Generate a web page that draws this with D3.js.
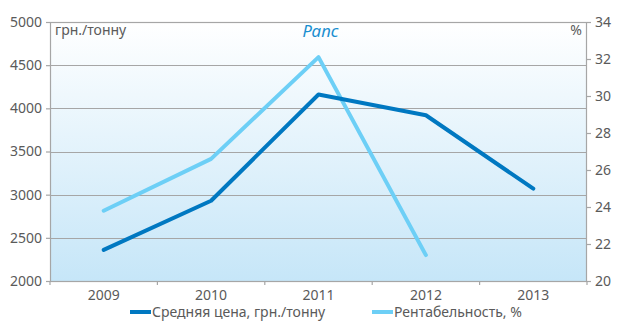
<!DOCTYPE html>
<html>
<head>
<meta charset="utf-8">
<script src="https://cdn.jsdelivr.net/npm/d3@7"></script>
<style>
  html, body { margin: 0; padding: 0; background: #fff; }
  svg { display: block; font-family: "Noto Sans", "Open Sans", sans-serif; }
</style>
</head>
<body>
<svg id="chart" width="617" height="323"></svg>
<script>
// Rapeseed: average price and profitability by year
const years = ["2009", "2010", "2011", "2012", "2013"];
const priceValues = [2360, 2930, 4160, 3920, 3070];
const profitValues = [23.8, 26.6, 32.1, 21.4, null];
const leftTicks = [2000, 2500, 3000, 3500, 4000, 4500, 5000];
const rightTicks = [20, 22, 24, 26, 28, 30, 32, 34];
const seriesNames = ["Средняя цена, грн./тонну", "Рентабельность, %"];
const seriesColors = ["#0078c1", "#6dcff6"];

const margin = { left: 50, right: 30, top: 22, bottom: 42 };
const W = 617, H = 323;
const svg = d3.select("#chart");
const x0 = margin.left, x1 = W - margin.right;
const y0 = H - margin.bottom, y1 = margin.top;

const x = d3.scaleBand().domain(years).range([x0, x1]);
const yL = d3.scaleLinear().domain([2000, 5000]).range([y0, y1]);
const yR = d3.scaleLinear().domain([20, 34]).range([y0, y1]);

// background gradient
const defs = svg.append("defs");
const grad = defs.append("linearGradient").attr("id", "bg")
  .attr("x1", 0).attr("y1", 0).attr("x2", 0).attr("y2", 1);
grad.append("stop").attr("offset", "0%").attr("stop-color", "#ffffff");
grad.append("stop").attr("offset", "100%").attr("stop-color", "#c6e6f8");

svg.append("rect").attr("x", x0).attr("y", y1)
  .attr("width", x1 - x0).attr("height", y0 - y1)
  .attr("fill", "url(#bg)");

// horizontal grid
svg.append("g").selectAll("line").data(leftTicks).join("line")
  .attr("x1", x0).attr("x2", x1)
  .attr("y1", d => Math.round(yL(d)) + 0.5).attr("y2", d => Math.round(yL(d)) + 0.5)
  .attr("stroke", "#a6a6a6").attr("stroke-width", 1.2);

// frame
svg.append("rect").attr("x", x0 + 0.5).attr("y", y1 + 0.5)
  .attr("width", x1 - x0 - 1).attr("height", y0 - y1)
  .attr("fill", "none").attr("stroke", "#a6a6a6").attr("stroke-width", 1.2);

const textColor = "#5a5a5a";

// left axis
const gL = svg.append("g").attr("transform", `translate(${x0},0)`)
  .call(d3.axisLeft(yL).tickValues(leftTicks).tickSize(4).tickPadding(4).tickFormat(d3.format("d")));
// right axis
const gR = svg.append("g").attr("transform", `translate(${x1},0)`)
  .call(d3.axisRight(yR).tickValues(rightTicks).tickSize(4).tickPadding(4).tickFormat(d3.format("d")));
// bottom axis
const gB = svg.append("g").attr("transform", `translate(0,${y0})`)
  .call(d3.axisBottom(x).tickSize(0).tickPadding(9));
// bottom tick marks at category boundaries
svg.append("g").selectAll("line").data(d3.range(years.length + 1)).join("line")
  .attr("x1", i => x0 + i * x.step()).attr("x2", i => x0 + i * x.step())
  .attr("y1", y0).attr("y2", y0 + 4)
  .attr("stroke", "#a6a6a6").attr("stroke-width", 1.2);

[gL, gR, gB].forEach(g => {
  g.select(".domain").remove();
  g.selectAll(".tick line").attr("stroke", "#a6a6a6").attr("stroke-width", 1.2);
  g.selectAll(".tick text").attr("fill", textColor).attr("font-size", 14)
    .attr("font-family", "'Noto Sans', sans-serif");
});

// series lines
const lineL = d3.line().defined(d => d != null)
  .x((d, i) => x(years[i]) + x.bandwidth() / 2).y(d => yL(d));
const lineR = d3.line().defined(d => d != null)
  .x((d, i) => x(years[i]) + x.bandwidth() / 2).y(d => yR(d));

svg.append("path").datum(profitValues).attr("d", lineR)
  .attr("fill", "none").attr("stroke", seriesColors[1]).attr("stroke-width", 4)
  .attr("stroke-linejoin", "round").attr("stroke-linecap", "round");
svg.append("path").datum(priceValues).attr("d", lineL)
  .attr("fill", "none").attr("stroke", seriesColors[0]).attr("stroke-width", 4)
  .attr("stroke-linejoin", "round").attr("stroke-linecap", "round");

// labels inside plot
svg.append("text").attr("x", x0 + 5).attr("y", y1 + 13)
  .attr("fill", textColor).attr("font-size", 14).text("грн./тонну");
svg.append("text").attr("x", x1 - 5).attr("y", y1 + 13).attr("text-anchor", "end")
  .attr("fill", textColor).attr("font-size", 14).text("%");
svg.append("text").attr("x", (x0 + x1) / 2 + 2).attr("y", y1 + 15).attr("text-anchor", "middle")
  .attr("fill", "#1a8fd0").attr("font-size", 17).attr("font-style", "italic").text("Рапс");

// legend
const legendX = [130, 372];
const leg = svg.append("g").selectAll("g").data(seriesNames).join("g")
  .attr("transform", (d, i) => `translate(${legendX[i]},${H - 11})`);
leg.append("line").attr("x1", 0).attr("x2", 21).attr("y1", 0).attr("y2", 0)
  .attr("stroke", (d, i) => seriesColors[i]).attr("stroke-width", 4);
leg.append("text").attr("x", 22).attr("y", 5).attr("fill", textColor)
  .attr("font-size", 14).text(d => d);
</script>
</body>
</html>
